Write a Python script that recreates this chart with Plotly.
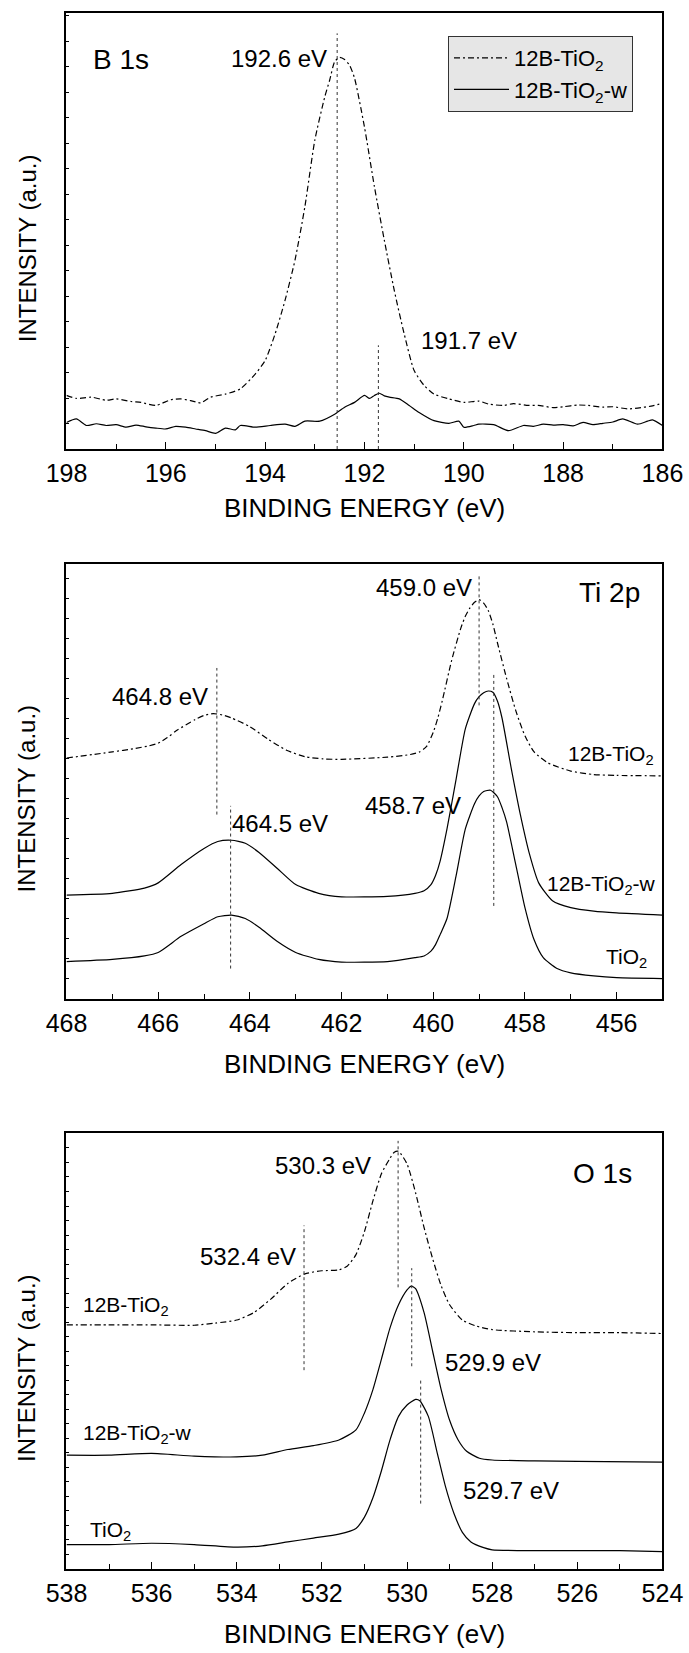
import plotly.graph_objects as go

# ---------------- Panel 1: B 1s ----------------
b_E_12B = [198.0, 197.8, 197.5, 197.2, 197.0, 196.7, 196.5, 196.2, 195.9, 195.7, 195.5, 195.3, 195.1, 194.8, 194.5,
           194.2, 194.0, 193.8, 193.6, 193.4, 193.2, 193.0, 192.8, 192.7, 192.6, 192.5, 192.4, 192.3, 192.2, 192.0,
           191.8, 191.6, 191.4, 191.2, 191.0, 190.8, 190.6, 190.3, 190.0, 189.7, 189.5, 189.2, 189.0, 188.7, 188.5,
           188.2, 188.0, 187.7, 187.5, 187.2, 187.0, 186.7, 186.5, 186.2, 186.0]
b_I_12B = [12.3, 11.6, 11.9, 11.2, 11.5, 10.9, 10.7, 10.0, 11.3, 11.5, 11.1, 10.6, 11.9, 12.6, 13.8,
           17.2, 20.3, 26.4, 34.1, 43.3, 55.6, 70.9, 80.8, 84.7, 88.9, 89.9, 89.4, 88.1, 85.1, 73.9,
           60.2, 47.9, 36.4, 26.4, 18.0, 14.6, 12.6, 11.5, 10.7, 11.0, 10.3, 10.0, 10.4, 10.0, 10.0,
           9.5, 9.7, 10.1, 10.0, 9.6, 9.7, 9.2, 9.4, 9.9, 10.5]

b_E_w = [198.0, 197.8, 197.6, 197.4, 197.2, 197.0, 196.8, 196.6, 196.4, 196.2, 196.0, 195.8, 195.6, 195.4, 195.2,
         195.0, 194.8, 194.6, 194.5, 194.2, 193.9, 193.6, 193.4, 193.2, 192.9, 192.6, 192.4, 192.2, 192.0, 191.9,
         191.8, 191.7, 191.6, 191.5, 191.3, 191.1, 190.9, 190.6, 190.3, 190.1, 190.0, 189.8, 189.7, 189.4, 189.1,
         188.8, 188.6, 188.4, 188.2, 188.0, 187.8, 187.6, 187.4, 187.2, 187.0, 186.8, 186.5, 186.3, 186.2, 186.0]
b_I_w = [6.1, 6.9, 5.4, 5.8, 5.4, 5.6, 5.0, 5.5, 5.1, 4.8, 4.6, 5.2, 5.0, 4.6, 4.2,
         3.6, 4.8, 4.4, 5.4, 5.0, 5.4, 5.7, 5.2, 6.4, 6.4, 8.0, 9.6, 10.7, 12.3, 11.6,
         12.3, 12.8, 12.2, 11.9, 11.5, 10.0, 8.4, 6.5, 5.9, 6.4, 5.0, 5.4, 5.7, 5.6, 4.2,
         5.4, 5.2, 5.7, 5.5, 5.6, 5.3, 6.1, 5.6, 5.9, 6.2, 6.9, 5.7, 6.4, 6.7, 5.4]

# ---------------- Panel 2: Ti 2p ----------------
ti_E_12B = [468.0, 467.0, 466.5, 466.2, 466.0, 465.8, 465.6, 465.2, 465.0, 464.8, 464.6, 464.4, 464.0, 463.6, 463.2,
            462.8, 462.4, 462.0, 461.0, 460.5, 460.3, 460.15, 460.0, 459.9, 459.8, 459.6, 459.4, 459.3, 459.2, 459.1,
            459.0, 458.9, 458.8, 458.7, 458.6, 458.4, 458.2, 458.0, 457.8, 457.5, 457.0, 456.5, 456.0, 455.0]
ti_I_12B = [55.4, 56.8, 57.6, 58.2, 58.8, 60.1, 61.7, 64.2, 65.2, 65.6, 65.3, 64.6, 62.6, 59.7, 57.2,
            55.7, 55.2, 55.1, 55.6, 56.2, 56.8, 58.0, 61.3, 64.6, 68.7, 77.8, 85.2, 88.0, 89.9, 91.2,
            91.8, 91.0, 89.3, 86.2, 81.9, 73.7, 66.3, 60.5, 56.8, 54.3, 52.4, 51.6, 51.4, 51.3]

ti_E_w = [468.0, 467.0, 466.3, 466.0, 465.5, 465.0, 464.7, 464.4, 464.1, 463.8, 463.4, 463.0, 462.5, 462.0, 461.0,
          460.4, 460.2, 460.05, 459.95, 459.85, 459.7, 459.5, 459.3, 459.1, 459.0, 458.9, 458.8, 458.7, 458.6, 458.5,
          458.3, 458.1, 457.9, 457.7, 457.4, 457.0, 456.5, 456.0, 455.0]
ti_I_w = [23.9, 24.3, 25.5, 26.7, 30.9, 34.6, 36.2, 36.5, 35.8, 33.7, 30.0, 26.3, 24.3, 23.5, 23.6,
          24.3, 24.9, 26.3, 28.4, 31.7, 39.1, 50.6, 62.1, 67.9, 69.5, 70.4, 70.8, 70.5, 68.5, 64.6,
          53.1, 42.4, 33.3, 26.7, 22.6, 21.0, 20.2, 19.8, 19.3]

ti_E_ref = [468.0, 467.0, 466.3, 466.0, 465.5, 465.0, 464.7, 464.4, 464.1, 463.8, 463.4, 463.0, 462.5, 462.0, 461.0,
            460.4, 460.2, 460.05, 459.95, 459.85, 459.7, 459.5, 459.3, 459.1, 459.0, 458.9, 458.75, 458.6, 458.5,
            458.4, 458.2, 458.0, 457.8, 457.6, 457.3, 457.0, 456.5, 456.0, 455.0]
ti_I_ref = [8.6, 9.1, 9.9, 10.7, 14.4, 17.3, 18.9, 19.3, 18.5, 16.5, 13.2, 10.7, 9.1, 8.5, 8.6,
            9.5, 9.9, 11.0, 12.5, 14.8, 18.5, 28.4, 39.1, 44.9, 46.7, 47.7, 48.0, 46.5, 44.0,
            40.7, 30.9, 21.0, 13.6, 9.5, 7.0, 6.0, 5.3, 4.9, 4.7]

# ---------------- Panel 3: O 1s ----------------
o_E_12B = [538.0, 537.0, 536.0, 535.0, 534.5, 534.0, 533.6, 533.2, 532.8, 532.4, 532.0, 531.6, 531.4, 531.2, 531.0,
           530.8, 530.6, 530.4, 530.3, 530.2, 530.0, 529.8, 529.6, 529.4, 529.2, 529.0, 528.7, 528.4, 528.0, 527.0,
           526.0, 525.0, 524.0]
o_I_12B = [56.0, 56.0, 56.0, 55.9, 56.4, 57.1, 58.8, 61.9, 65.5, 67.7, 68.4, 68.6, 69.5, 72.1, 77.4,
           84.5, 90.7, 94.2, 95.6, 95.8, 92.9, 86.3, 78.3, 71.2, 65.0, 60.6, 57.1, 55.8, 54.9, 54.4,
           54.2, 54.2, 54.0]

o_E_w = [538.0, 537.0, 536.0, 535.0, 534.0, 533.4, 532.8, 532.2, 531.6, 531.2, 531.0, 530.8, 530.6, 530.4, 530.2,
         530.0, 529.9, 529.8, 529.6, 529.4, 529.2, 529.0, 528.8, 528.6, 528.3, 528.0, 527.0, 526.0, 524.0]
o_I_w = [26.1, 26.1, 26.5, 25.9, 25.7, 26.1, 27.4, 28.3, 29.6, 31.9, 35.8, 41.2, 48.2, 55.3, 60.6,
         64.0, 64.9, 64.3, 58.8, 50.0, 41.2, 34.1, 29.6, 27.0, 25.4, 25.0, 24.8, 24.7, 24.5]

o_E_ref = [538.0, 537.0, 536.0, 535.0, 534.0, 533.4, 532.8, 532.2, 531.6, 531.2, 531.0, 530.8, 530.6, 530.4, 530.2,
           530.0, 529.8, 529.7, 529.5, 529.3, 529.1, 528.9, 528.7, 528.5, 528.2, 528.0, 527.0, 526.0, 525.0, 524.0]
o_I_ref = [5.6, 5.6, 5.9, 5.6, 5.0, 5.3, 6.2, 7.1, 8.0, 9.3, 11.9, 16.4, 22.6, 29.6, 35.0,
           37.6, 38.9, 38.6, 35.0, 27.0, 19.0, 12.8, 8.4, 6.2, 4.9, 4.4, 4.2, 4.2, 4.2, 4.0]

# ---------------- peak markers (energy, y_low, y_high) ----------------
b_peaks = [(192.55, 0, 95.4), (191.72, 0, 23.8)]
ti_peaks = [(459.0, 67.5, 97.5), (464.72, 42.4, 76.1), (464.42, 7.0, 44.4), (458.68, 21.4, 74.5)]
o_peaks = [(530.21, 64.6, 98.2), (532.42, 45.6, 78.8), (529.89, 46.5, 69.0), (529.68, 15.0, 43.8)]

# ---------------- annotation texts (text, x, y, xanchor, size) ----------------
b_labels = [("B 1s", 196.9, 89.3, "center", 28), ("192.6 eV", 192.72, 89.7, "right", 24),
            ("191.7 eV", 190.9, 24.9, "left", 24)]
ti_labels = [("Ti 2p", 455.45, 93.4, "right", 28), ("459.0 eV", 459.12, 94.7, "right", 24),
             ("464.8 eV", 464.87, 69.5, "right", 24), ("464.5 eV", 464.44, 40.3, "left", 24),
             ("458.7 eV", 459.36, 44.4, "right", 24), ("12B-TiO<sub>2</sub>", 455.14, 56.0, "right", 21),
             ("12B-TiO<sub>2</sub>-w", 455.1, 26.3, "right", 21), ("TiO<sub>2</sub>", 455.3, 9.5, "right", 21)]
o_labels = [("O 1s", 525.4, 90.7, "center", 28), ("530.3 eV", 530.8, 92.5, "right", 24),
            ("532.4 eV", 532.56, 71.7, "right", 24), ("12B-TiO<sub>2</sub>", 537.67, 60.4, "left", 21),
            ("529.9 eV", 529.15, 47.3, "left", 24), ("12B-TiO<sub>2</sub>-w", 537.67, 31.0, "left", 21),
            ("529.7 eV", 528.73, 18.1, "left", 24), ("TiO<sub>2</sub>", 537.5, 8.8, "left", 21)]

FONT = "Liberation Sans, Arial, sans-serif"
DASHDOT = "6px,3px,2px,3px"

fig = go.Figure()

panels = [
    dict(ax="", E=[b_E_12B, b_E_w], I=[b_I_12B, b_I_w], names=["12B-TiO<sub>2</sub>", "12B-TiO<sub>2</sub>-w"],
         dashes=[DASHDOT, "solid"], legend=True, peaks=b_peaks, labels=b_labels,
         xr=[198, 186], ticks=list(range(198, 185, -2)), dom=[0.72837, 0.99195], dtick=5.85),
    dict(ax="2", E=[ti_E_12B, ti_E_w, ti_E_ref], I=[ti_I_12B, ti_I_w, ti_I_ref],
         names=["12B-TiO<sub>2</sub>", "12B-TiO<sub>2</sub>-w", "TiO<sub>2</sub>"],
         dashes=[DASHDOT, "solid", "solid"], legend=False, peaks=ti_peaks, labels=ti_labels,
         xr=[468, 455], ticks=list(range(468, 455, -2)), dom=[0.39564, 0.65880], dtick=4.6),
    dict(ax="3", E=[o_E_12B, o_E_w, o_E_ref], I=[o_I_12B, o_I_w, o_I_ref],
         names=["12B-TiO<sub>2</sub>", "12B-TiO<sub>2</sub>-w", "TiO<sub>2</sub>"],
         dashes=[DASHDOT, "solid", "solid"], legend=False, peaks=o_peaks, labels=o_labels,
         xr=[538, 524], ticks=list(range(538, 523, -2)), dom=[0.05082, 0.31458], dtick=3.33),
]

xtitle_y = [1 - 508 / 1653, 1 - 1064 / 1653, 1 - 1634 / 1653]

for k, p in enumerate(panels):
    xa, ya = "x" + p["ax"], "y" + p["ax"]
    for E, I, nm, ds in zip(p["E"], p["I"], p["names"], p["dashes"]):
        fig.add_trace(go.Scatter(x=E, y=I, mode="lines", name=nm, xaxis=xa, yaxis=ya,
                                 line=dict(color="black", width=1.2, dash=ds, shape="spline", smoothing=0.6),
                                 showlegend=p["legend"]))
    for (e, y0, y1) in p["peaks"]:
        fig.add_shape(type="line", xref=xa, yref=ya, x0=e, x1=e, y0=y0, y1=y1,
                      line=dict(color="#333333", width=1, dash="dot"))
    for (t, x, y, anc, sz) in p["labels"]:
        fig.add_annotation(text=t, x=x, y=y, xref=xa, yref=ya, xanchor=anc, yanchor="middle",
                           showarrow=False, font=dict(family=FONT, size=sz, color="black"))
    xkey = "xaxis" + p["ax"]
    ykey = "yaxis" + p["ax"]
    fig.update_layout(**{
        xkey: dict(domain=[0.0965, 0.9615], range=p["xr"], anchor=ya, tickvals=p["ticks"],
                   showline=True, linecolor="black", linewidth=1.6, mirror=True,
                   ticks="inside", ticklen=7, tickwidth=1.3, tickcolor="black",
                   minor=dict(dtick=1, ticks="inside", ticklen=5, tickwidth=1.2, tickcolor="black"),
                   tickfont=dict(family=FONT, size=25, color="black"), ticklabelstandoff=1,
                   showgrid=False, zeroline=False, automargin=False),
        ykey: dict(domain=p["dom"], range=[0, 100], anchor=xa, showticklabels=False,
                   showline=True, linecolor="black", linewidth=1.6, mirror=True,
                   ticks="inside", ticklen=3, tickwidth=1, tickcolor="black", tick0=0, dtick=p["dtick"],
                   showgrid=False, zeroline=False, automargin=False),
    })
    fig.add_annotation(text="BINDING ENERGY (eV)", x=0.529, y=xtitle_y[k], xref="paper", yref="paper",
                       xanchor="center", yanchor="middle", showarrow=False,
                       font=dict(family=FONT, size=26, color="black"))
    fig.add_annotation(text="INTENSITY (a.u.)", x=27 / 689, y=(p["dom"][0] + p["dom"][1]) / 2 - 17 / 1653,
                       xref="paper", yref="paper", xanchor="center", yanchor="middle", textangle=-90,
                       showarrow=False, font=dict(family=FONT, size=24, color="black"))

fig.update_layout(
    template="none",
    width=689, height=1653, margin=dict(l=0, r=0, t=0, b=0, autoexpand=False),
    paper_bgcolor="white", plot_bgcolor="white",
    font=dict(family=FONT, color="black"),
    legend=dict(x=448 / 689, y=1 - 36 / 1653, xanchor="left", yanchor="top",
                bgcolor="#e6e6e6", bordercolor="#333333", borderwidth=1,
                font=dict(family=FONT, size=22, color="black"), itemwidth=55,
                tracegroupgap=0),
)

fig.write_html("out.html")
